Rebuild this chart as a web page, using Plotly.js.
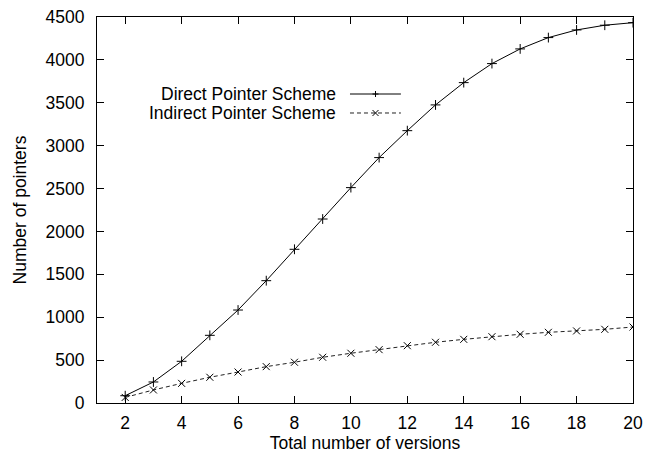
<!DOCTYPE html>
<html>
<head>
<meta charset="utf-8">
<script src="https://cdn.plot.ly/plotly-3.0.1.min.js"></script>
<style>
  html, body { margin: 0; padding: 0; background: #fff; }
  #chart { width: 657px; height: 459px; }
</style>
</head>
<body>
<div id="chart"></div>
<script>
// Number of versions on the x axis
const versions = [2, 3, 4, 5, 6, 7, 8, 9, 10, 11, 12, 13, 14, 15, 16, 17, 18, 19, 20];

// Pointer counts for each scheme
const directPointers = [85, 245, 486, 789, 1084, 1426, 1792, 2145, 2511, 2861, 3175, 3475, 3735, 3957, 4128, 4260, 4349, 4404, 4434];
const indirectPointers = [65, 152, 229, 300, 361, 424, 475, 533, 580, 622, 668, 708, 742, 773, 801, 824, 840, 859, 886];

const seriesNames = ['Direct Pointer Scheme', 'Indirect Pointer Scheme'];
const xTicks = [2, 4, 6, 8, 10, 12, 14, 16, 18, 20];
const yTicks = [0, 500, 1000, 1500, 2000, 2500, 3000, 3500, 4000, 4500];

const FONT = 'Liberation Sans, Arial, Helvetica, sans-serif';
const FS = 17.5;

const traces = [
  {
    x: versions, y: directPointers, name: seriesNames[0],
    type: 'scatter', mode: 'lines+markers',
    line: { color: '#000', width: 1 },
    marker: { symbol: 'cross-thin', size: 7, color: '#000', line: { color: '#000', width: 1 } },
    showlegend: false
  },
  {
    x: versions, y: indirectPointers, name: seriesNames[1],
    type: 'scatter', mode: 'lines+markers',
    line: { color: '#222', width: 1, dash: '4px,3px' },
    marker: { symbol: 'x-thin', size: 7, color: '#000', line: { color: '#000', width: 1 } },
    showlegend: false
  }
];

// Key in the upper-left area: right-aligned labels with line samples to their right
const keyX = 0.4496, sampleX0 = 0.472, sampleX1 = 0.567, sampleMid = 0.5196;
const keyRows = [0.8005, 0.7513];

const annotations = seriesNames.map((name, i) => ({
  xref: 'paper', yref: 'paper', x: keyX, y: keyRows[i],
  xanchor: 'right', yanchor: 'middle', showarrow: false,
  text: name, font: { family: FONT, size: FS, color: '#000' }
}));

const shapes = [
  { type: 'line', xref: 'paper', yref: 'paper', x0: sampleX0, x1: sampleX1, y0: keyRows[0], y1: keyRows[0],
    line: { color: '#000', width: 1 } },
  { type: 'line', xref: 'paper', yref: 'paper', x0: sampleX0, x1: sampleX1, y0: keyRows[1], y1: keyRows[1],
    line: { color: '#222', width: 1, dash: '4px,3px' } },
  { type: 'path', xref: 'paper', yref: 'paper', xsizemode: 'pixel', ysizemode: 'pixel',
    xanchor: sampleMid, yanchor: keyRows[0], path: 'M-3,0L3,0M0,-3L0,3',
    line: { color: '#000', width: 1 } },
  { type: 'path', xref: 'paper', yref: 'paper', xsizemode: 'pixel', ysizemode: 'pixel',
    xanchor: sampleMid, yanchor: keyRows[1], path: 'M-3,-3L3,3M-3,3L3,-3',
    line: { color: '#000', width: 1 } }
];

const axisCommon = {
  showgrid: false, zeroline: false,
  showline: true, linecolor: '#000', linewidth: 1, mirror: 'allticks',
  ticks: 'inside', ticklen: 7, tickwidth: 1, tickcolor: '#000',
  tickfont: { family: FONT, size: FS, color: '#000' }
};

const layout = {
  width: 657, height: 459,
  margin: { l: 97, r: 24, t: 17, b: 56 },
  paper_bgcolor: '#fff', plot_bgcolor: '#fff',
  font: { family: FONT, size: FS, color: '#000' },
  xaxis: Object.assign({}, axisCommon, {
    range: [1, 20], tickvals: xTicks, ticktext: xTicks.map(String),
    ticklabelstandoff: 4,
    title: { text: 'Total number of versions', font: { family: FONT, size: FS, color: '#000' }, standoff: 1 }
  }),
  yaxis: Object.assign({}, axisCommon, {
    range: [0, 4500], tickvals: yTicks, ticktext: yTicks.map(String),
    ticklabelstandoff: 8,
    title: { text: 'Number of pointers', font: { family: FONT, size: FS, color: '#000' }, standoff: 14 }
  }),
  annotations: annotations,
  shapes: shapes,
  showlegend: false
};

Plotly.newPlot('chart', traces, layout, { staticPlot: true, displayModeBar: false });
</script>
</body>
</html>
